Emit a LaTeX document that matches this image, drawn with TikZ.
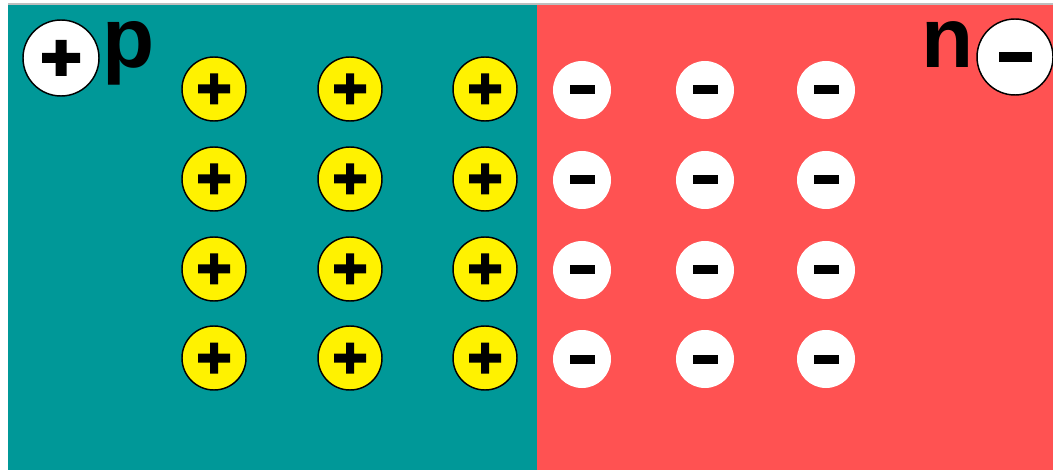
\documentclass[tikz,border=0pt]{standalone}
\usepackage{fontspec}
\setmainfont{Liberation Sans}
\definecolor{pteal}{RGB}{0,152,152}
\definecolor{nred}{RGB}{255,82,82}
\definecolor{edgegray}{RGB}{190,190,190}
\tikzset{
  plusmark/.style={path picture={\fill[black,shift={(path picture bounding box.center)}] (-16,-4.5) rectangle (16,4.5) (-4,-15.5) rectangle (4,15.5);}},
  bigplusmark/.style={path picture={\fill[black,shift={(path picture bounding box.center)}] (-19,-5) rectangle (19,5) (-5.5,-18) rectangle (5.5,18);}},
  minusmark/.style={path picture={\fill[black,shift={(path picture bounding box.center)}] (-12.5,-4.5) rectangle (12.5,4.5);}},
  bigminusmark/.style={path picture={\fill[black,shift={(path picture bounding box.center)}] (-16.5,-5) rectangle (16.5,5);}},
  acceptor/.style={circle, inner sep=0pt, minimum size=48pt, fill=yellow, draw=black, line width=1.1pt, plusmark},
  donor/.style={circle, inner sep=0pt, minimum size=43.5pt, fill=white, minusmark},
  hole/.style={circle, inner sep=0pt, minimum size=57pt, fill=white, draw=black, line width=1.1pt, bigplusmark},
  electron/.style={circle, inner sep=0pt, minimum size=57pt, fill=white, draw=black, line width=1.1pt, bigminusmark},
  letter/.style={inner sep=0pt, anchor=base west, text height=0.53em, text depth=0.21em, font=\fontsize{64}{64}\selectfont\bfseries},
}
\begin{document}
\begin{tikzpicture}[x=0.75pt,y=-0.75pt]
\useasboundingbox (0,0) rectangle (1053,470);
\fill[white] (0,0) rectangle (1053,470);
\fill[edgegray] (8,3.5) rectangle (1053,5);
\fill[pteal] (8,5) rectangle (537,470);
\fill[nred] (537,5) rectangle (1053,470);
\foreach \r/\y in {1/89,2/179,3/269,4/358}{
  \foreach \c/\x in {1/214,2/350,3/485}{
    \node[acceptor] (a\r\c) at (\x,\y) {};
  }
  \foreach \c/\x in {1/582,2/705,3/826}{
    \node[donor] (d\r\c) at (\x,\y+1) {};
  }
}
\node[hole] (h) at (61,58) {};
\node[electron] (e) at (1015,57) {};
\node[letter] (p) at (102,68) {p};
\node[letter] (n) at (921,68) {n};
\end{tikzpicture}
\end{document}
